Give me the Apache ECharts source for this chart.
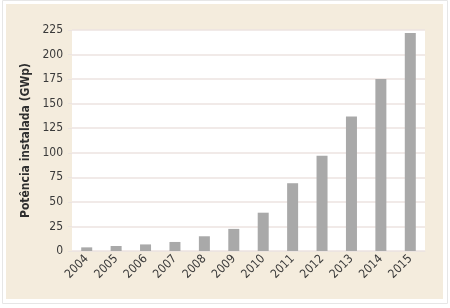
<!DOCTYPE html>
<html>
<head>
<meta charset="utf-8">
<script src="https://cdn.jsdelivr.net/npm/echarts@6/dist/echarts.min.js"></script>
<style>
  html, body { margin: 0; padding: 0; background: #ffffff; }
  #chart { width: 450px; height: 308px; }
</style>
</head>
<body>
<div id="chart"></div>
<script>
// Installed photovoltaic capacity worldwide, by year (GWp)
var years = ['2004', '2005', '2006', '2007', '2008', '2009', '2010', '2011', '2012', '2013', '2014', '2015'];
var capacity = [3.7, 5.1, 6.7, 9.2, 15, 22.5, 39, 69, 97, 137, 175, 222];
var yTicks = { min: 0, max: 225, interval: 25 };
var axisTitle = 'Potência instalada (GWp)';

var font = "'Liberation Sans Narrow', 'DejaVu Sans Condensed', 'Liberation Sans', sans-serif";

var chart = echarts.init(document.getElementById('chart'), null, { renderer: 'canvas' });
chart.setOption({
  animation: false,
  backgroundColor: '#ffffff',
  graphic: [
    { type: 'rect', z: -10, shape: { x: 2.5, y: 0.5, width: 445, height: 303 },
      style: { fill: '#ffffff', stroke: '#e6e6e6', lineWidth: 1 } },
    { type: 'rect', z: -9, shape: { x: 6, y: 4, width: 437, height: 295 },
      style: { fill: '#f4ecdd' } }
  ],
  grid: {
    left: 72, right: 25, top: 30, bottom: 57,
    show: true, backgroundColor: '#ffffff', borderWidth: 0
  },
  xAxis: {
    type: 'category',
    data: years,
    axisLine: { show: true, lineStyle: { color: '#ece4e0', width: 1 } },
    axisTick: { show: false },
    axisLabel: {
      rotate: 45, color: '#3a3a3a', fontFamily: font, fontSize: 12,
      margin: 6, interval: 0
    }
  },
  yAxis: {
    type: 'value',
    min: yTicks.min, max: yTicks.max, interval: yTicks.interval,
    name: axisTitle,
    nameLocation: 'middle',
    nameGap: 38,
    nameTextStyle: { color: '#2e2e2e', fontFamily: font, fontSize: 12, fontWeight: 'bold' },
    axisLine: { show: false },
    axisTick: { show: true, length: 4, lineStyle: { color: '#ece4e0' } },
    axisLabel: { color: '#3a3a3a', fontFamily: font, fontSize: 12, margin: 9 },
    splitLine: { show: true, lineStyle: { color: '#ede3e0', width: 1.5 } }
  },
  series: [{
    type: 'bar',
    data: capacity,
    barWidth: 11,
    itemStyle: { color: '#a9a9a9' }
  }]
});
</script>
</body>
</html>
